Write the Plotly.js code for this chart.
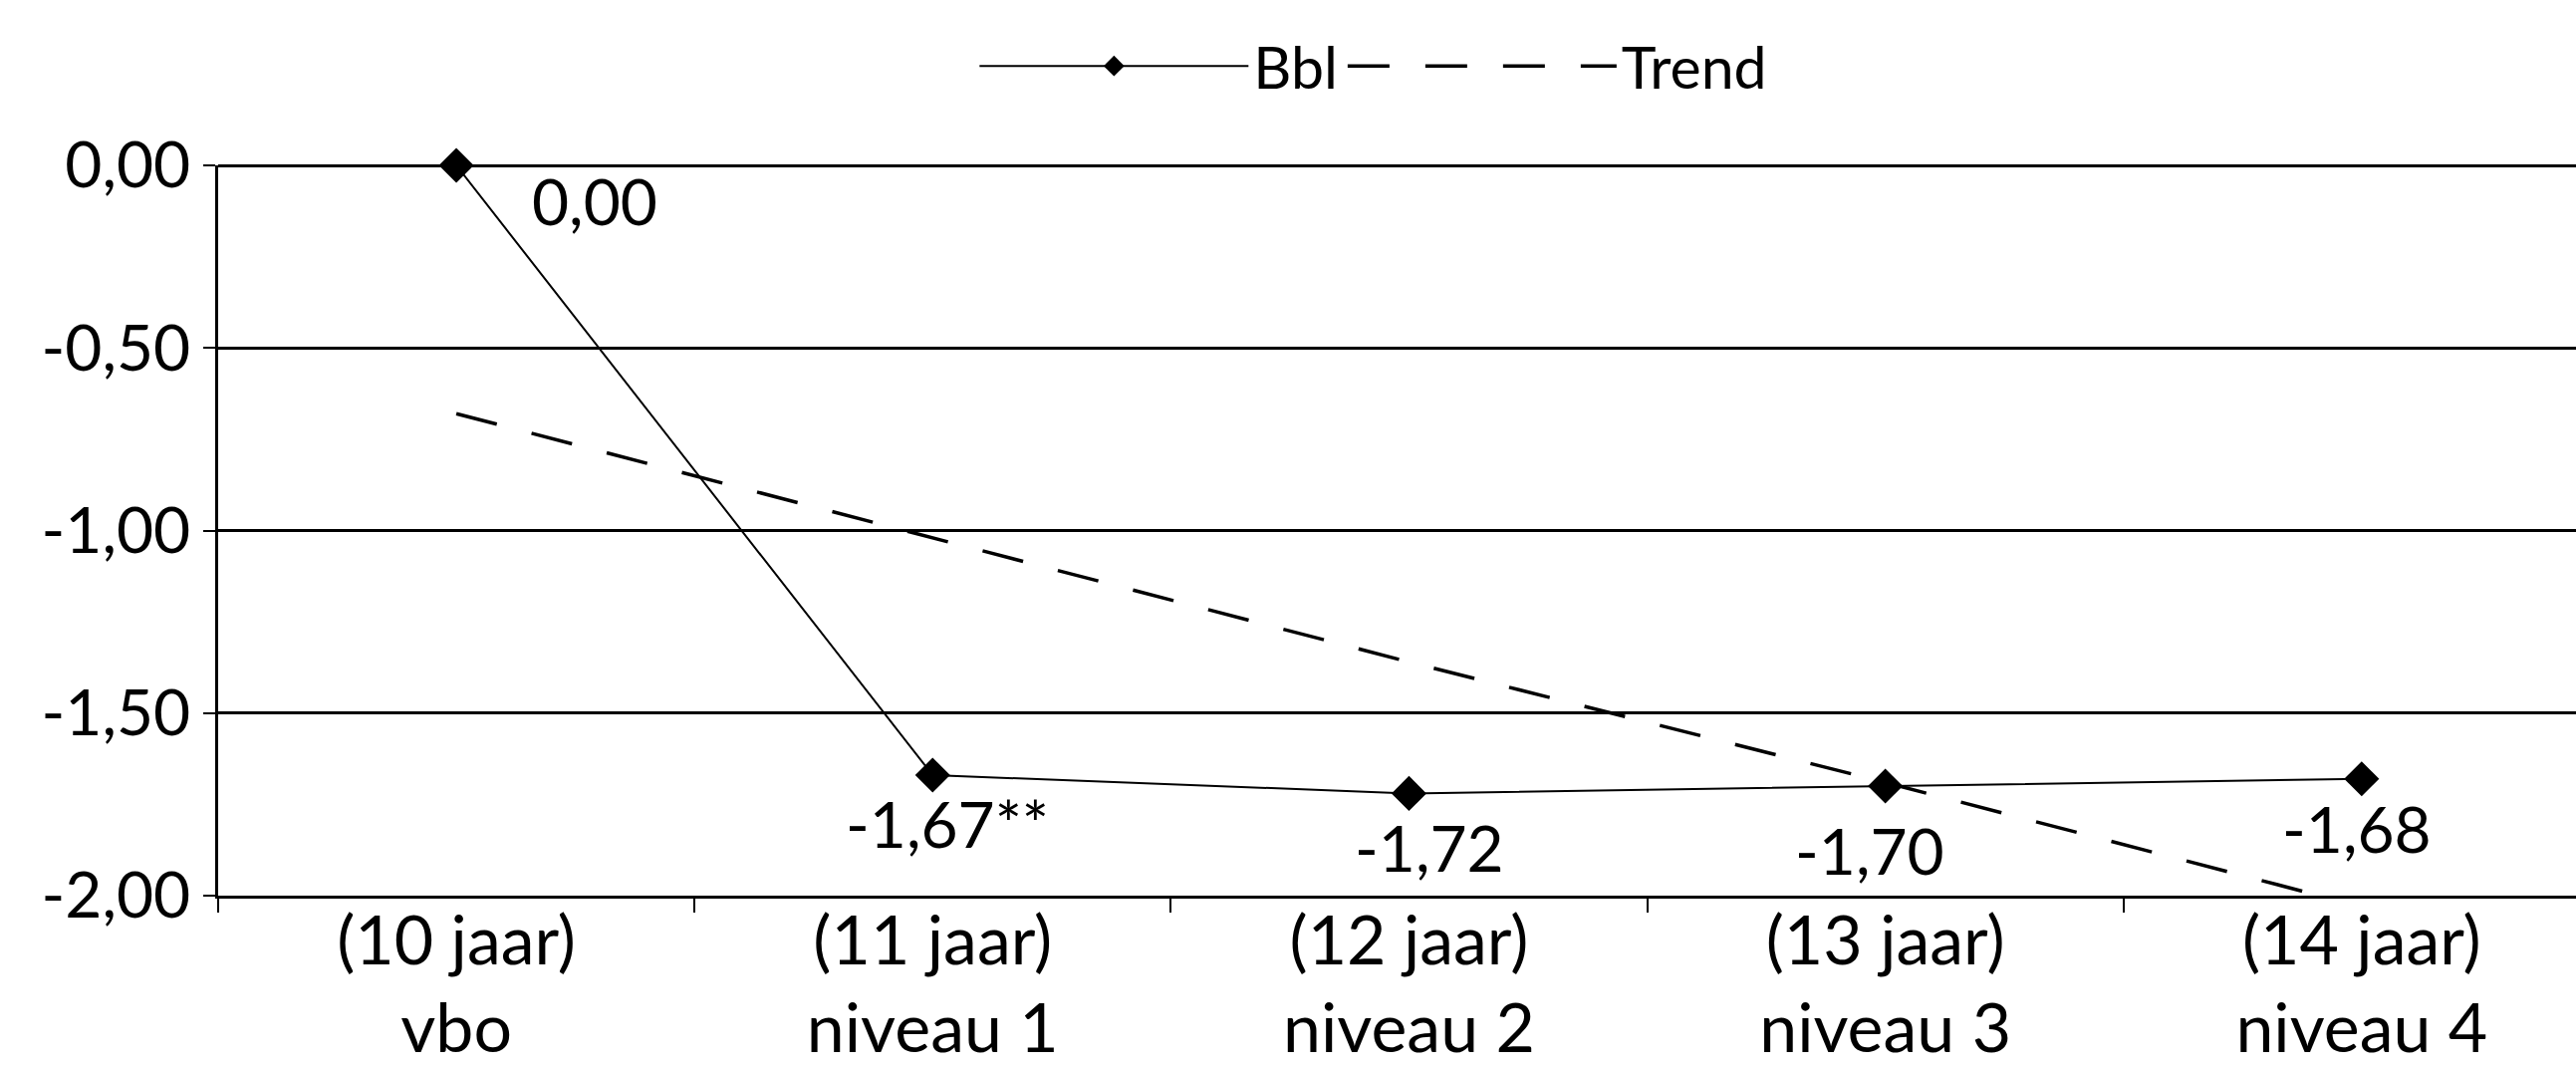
<!DOCTYPE html>
<html>
<head>
<meta charset="utf-8">
<script src="https://cdn.plot.ly/plotly-3.0.1.min.js"></script>
<style>html,body{margin:0;padding:0;background:#fff;}#chart{width:2586px;height:1073px;}</style>
</head>
<body>
<div id="chart"></div>
<script>
// ---- data ----
const categories = ["(10 jaar)<br>vbo", "(11 jaar)<br>niveau 1", "(12 jaar)<br>niveau 2", "(13 jaar)<br>niveau 3", "(14 jaar)<br>niveau 4"];
const bblValues = [0.00, -1.67, -1.72, -1.70, -1.68];
const bblLabels = ["0,00", "-1,67**", "-1,72", "-1,70", "-1,68"];
const trendValues = [-0.68, -1.02, -1.36, -1.69, -2.03];
const yTickValues = [0, -0.5, -1, -1.5, -2];
const yTickLabels = ["0,00", "-0,50", "-1,00", "-1,50", "-2,00"];

// ---- layout helpers (label offsets in px) ----
const labelShift = [[139, -35], [15, -48], [21, -54], [-16, -64], [-5, -50]];
const FONT = "Lato, 'DejaVu Sans', sans-serif";

const traces = [
  {
    type: "scatter", mode: "lines+markers", name: "Bbl",
    x: categories, y: bblValues,
    line: {color: "#000", width: 2},
    marker: {symbol: "diamond", size: 27, color: "#000"},
    cliponaxis: false
  },
  {
    type: "scatter", mode: "lines", name: "Trend",
    x: categories, y: trendValues,
    line: {color: "#000", width: 3.5, dash: "42px,36px"},
    cliponaxis: false
  }
];

const annotations = bblValues.map((v, i) => ({
  x: categories[i], y: v, xref: "x", yref: "y",
  text: bblLabels[i], showarrow: false,
  xshift: labelShift[i][0], yshift: labelShift[i][1],
  font: {family: FONT, size: 64, color: "#000"}
}));

const layout = {
  width: 2586, height: 1073,
  paper_bgcolor: "#fff", plot_bgcolor: "#fff",
  margin: {l: 219, r: 0, t: 166, b: 174, pad: 0},
  font: {family: FONT, color: "#000", size: 62},
  showlegend: true,
  legend: {
    orientation: "h", x: 0.49, xanchor: "center", y: 1.136, yanchor: "middle",
    font: {family: FONT, size: 59, color: "#000"},
    itemwidth: 270, bgcolor: "rgba(0,0,0,0)"
  },
  xaxis: {
    type: "category", range: [-0.5, 4.45],
    showgrid: false, zeroline: false,
    showline: true, linecolor: "#000", linewidth: 3,
    ticks: "outside", tickson: "boundaries", ticklen: 14, tickwidth: 2, tickcolor: "#000",
    ticklabelstandoff: -16,
    tickfont: {family: FONT, size: 68, color: "#000"}
  },
  yaxis: {
    range: [-2, 0], tickvals: yTickValues, ticktext: yTickLabels,
    showgrid: true, gridcolor: "#000", gridwidth: 3,
    zeroline: true, zerolinecolor: "#000", zerolinewidth: 3,
    showline: true, linecolor: "#000", linewidth: 3,
    ticks: "outside", ticklen: 12, tickwidth: 2, tickcolor: "#000",
    tickfont: {family: FONT, size: 64, color: "#000"}
  },
  annotations: annotations
};

Plotly.newPlot("chart", traces, layout, {displayModeBar: false, staticPlot: true});
</script>
</body>
</html>
